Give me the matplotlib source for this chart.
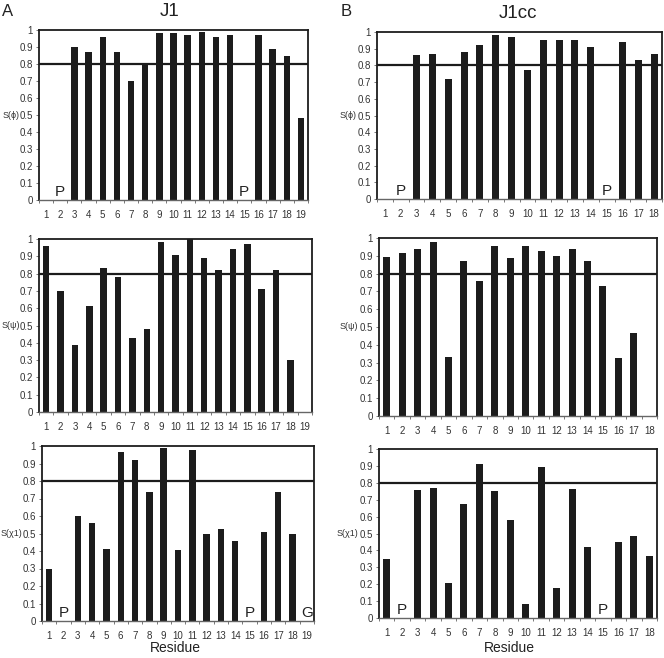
import matplotlib
matplotlib.use("Agg")
import matplotlib.pyplot as plt

plt.rcParams['font.family'] = ['Liberation Sans', 'DejaVu Sans']

# Data
res_j1 = list(range(1, 20))
res_j1cc = list(range(1, 19))

j1_phi = [0, 0, 0.90, 0.87, 0.96, 0.87, 0.70, 0.80, 0.98, 0.98, 0.97, 0.99, 0.96, 0.97, 0, 0.97, 0.89, 0.85, 0.48]
j1cc_phi = [0, 0, 0.86, 0.87, 0.72, 0.88, 0.92, 0.98, 0.97, 0.77, 0.95, 0.95, 0.955, 0.91, 0, 0.94, 0.83, 0.87]
j1_psi = [0.96, 0.70, 0.39, 0.61, 0.83, 0.78, 0.43, 0.48, 0.98, 0.91, 1.0, 0.89, 0.82, 0.94, 0.97, 0.71, 0.82, 0.30, 0]
j1cc_psi = [0.895, 0.915, 0.94, 0.975, 0.33, 0.87, 0.76, 0.955, 0.885, 0.955, 0.925, 0.90, 0.94, 0.87, 0.73, 0.325, 0.465, 0]
j1_chi = [0.30, 0, 0.60, 0.56, 0.41, 0.965, 0.92, 0.74, 0.99, 0.405, 0.98, 0.495, 0.525, 0.46, 0, 0.51, 0.74, 0.50, 0]
j1cc_chi = [0.35, 0, 0.76, 0.77, 0.205, 0.675, 0.91, 0.75, 0.58, 0.08, 0.895, 0.18, 0.765, 0.42, 0, 0.45, 0.485, 0.365]

j1_phi_marks = {2: "P", 15: "P"}
j1cc_phi_marks = {2: "P", 15: "P"}
j1_chi_marks = {2: "P", 15: "P", 19: "G"}
j1cc_chi_marks = {2: "P", 15: "P"}

yticks = [0, 0.1, 0.2, 0.3, 0.4, 0.5, 0.6, 0.7, 0.8, 0.9, 1.0]
ytick_labels = ["0", "0.1", "0.2", "0.3", "0.4", "0.5", "0.6", "0.7", "0.8", "0.9", "1"]
threshold = 0.8

W, H = 664, 658
fig = plt.figure(figsize=(W / 100, H / 100), dpi=100)
TXT = "#333333"
INK = "#1c1c1c"


def make_ax(l, r, t, b):
    return fig.add_axes([l / W, 1 - b / H, (r - l) / W, (b - t) / H])


def panel(ax, res, vals, ylabel, marks, lab_right):
    n = len(res)
    ax.bar(res, vals, width=0.45, color=INK, zorder=2)
    ax.axhline(threshold, color=INK, lw=1.6, zorder=3)
    ax.set_xlim(0.5, n + 0.5)
    ax.set_ylim(0, 1.0)
    ax.set_yticks(yticks)
    ax.set_yticklabels(ytick_labels, fontsize=7, color=TXT)
    ax.set_xticks(res)
    ax.set_xticklabels([str(r) for r in res], fontsize=7, color=TXT)
    ax.set_xticks([i + 0.5 for i in range(n + 1)], minor=True)
    ax.tick_params(axis="x", which="major", length=0, pad=7)
    ax.tick_params(axis="x", which="minor", length=2.5, width=0.7, direction="out", color="#777777")
    ax.tick_params(axis="y", length=2, width=0.7, direction="out", pad=2.5, color="#777777")
    for s in ax.spines.values():
        s.set_linewidth(1.3)
        s.set_color(INK)
    ax.spines["bottom"].set_linewidth(1.0)
    ax.spines["bottom"].set_color("#666666")
    for k, txt in marks.items():
        ax.text(k, 0.045, txt, ha="center", va="center", fontsize=11, color="#222222")
    # y label placed in figure pixels to the left of tick labels
    pos = ax.get_position()
    fig.text(lab_right / W, pos.y0 + pos.height / 2, ylabel, ha="right", va="center",
             fontsize=6.5, color=TXT)


ax1 = make_ax(39, 308, 30, 200)
panel(ax1, res_j1, j1_phi, "S(ϕ)", j1_phi_marks, 20)
ax2 = make_ax(377, 662, 32, 199)
panel(ax2, res_j1cc, j1cc_phi, "S(ϕ)", j1cc_phi_marks, 357)
ax3 = make_ax(39, 312, 239, 412)
panel(ax3, res_j1, j1_psi, "S(ψ)", {}, 20)
ax4 = make_ax(379, 657, 238, 416)
panel(ax4, res_j1cc, j1cc_psi, "S(ψ)", {}, 358)
ax5 = make_ax(42, 314, 446, 621)
panel(ax5, res_j1, j1_chi, "S(χ1)", j1_chi_marks, 22)
ax6 = make_ax(379, 657, 449, 618)
panel(ax6, res_j1cc, j1cc_chi, "S(χ1)", j1cc_chi_marks, 358)

fig.text(8 / W, 1 - 11 / H, "A", fontsize=12, ha="center", va="center", color="#222222")
fig.text(346 / W, 1 - 12 / H, "B", fontsize=12, ha="center", va="center", color="#222222")
fig.text(170 / W, 1 - 12 / H, "J1", fontsize=13.5, ha="center", va="center", color="#222222")
fig.text(518 / W, 1 - 13 / H, "J1cc", fontsize=13.5, ha="center", va="center", color="#222222")
fig.text(175 / W, 1 - 648 / H, "Residue", fontsize=10, ha="center", va="center", color="#222222")
fig.text(509 / W, 1 - 648 / H, "Residue", fontsize=10, ha="center", va="center", color="#222222")

fig.savefig("out.png", dpi=100)
